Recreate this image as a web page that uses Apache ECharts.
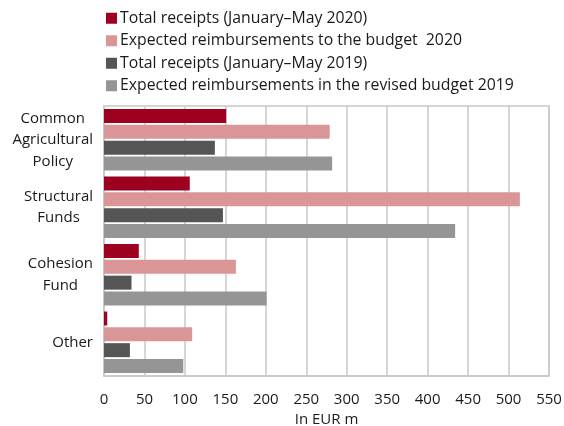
<!DOCTYPE html>
<html>
<head>
<meta charset="utf-8">
<script src="https://cdn.jsdelivr.net/npm/echarts@6/dist/echarts.min.js"></script>
<style>
  html, body { margin: 0; padding: 0; background: #ffffff; }
  #chart { width: 564px; height: 426px; }
</style>
</head>
<body>
<div id="chart"></div>
<script>
// Categories (top to bottom)
var categories = ['Common\nAgricultural\nPolicy', 'Structural\nFunds', 'Cohesion\nFund', 'Other'];

// Series names
var seriesNames = [
  'Total receipts (January\u2013May 2020)',
  'Expected reimbursements to the budget  2020',
  'Total receipts (January\u2013May 2019)',
  'Expected reimbursements in the revised budget 2019'
];

// Values in EUR m
var receipts2020 = [151, 106, 43, 4];
var expected2020 = [279, 514, 163, 109];
var receipts2019 = [137, 147, 34, 32];
var expected2019 = [282, 434, 201, 98];

// Value axis ticks
var xMin = 0, xMax = 550, xStep = 50;

var colors = ['#9e0020', '#da9696', '#555555', '#959595'];
var seriesValues = [receipts2020, expected2020, receipts2019, expected2019];
var fontFamily = '"Open Sans", "Noto Sans", sans-serif';
var textColor = '#1a1a1a';

var chart = echarts.init(document.getElementById('chart'), null, { renderer: 'canvas' });

chart.setOption({
  animation: false,
  backgroundColor: '#ffffff',
  color: colors,
  legend: {
    orient: 'vertical',
    left: 101,
    top: 4,
    itemWidth: 11,
    itemHeight: 11,
    itemGap: 4,
    icon: 'rect',
    textStyle: { fontFamily: fontFamily, fontSize: 15.8, color: textColor, lineHeight: 18.5, padding: [0, 0, 0, -2] },
    data: seriesNames
  },
  grid: {
    left: 104,
    right: 15,
    top: 106,
    bottom: 50,
    show: true,
    borderColor: '#c8c8c8',
    borderWidth: 1.5,
    containLabel: false,
    outerBoundsMode: 'none'
  },
  xAxis: {
    type: 'value',
    min: xMin,
    max: xMax,
    interval: xStep,
    name: 'In EUR m',
    nameLocation: 'middle',
    nameGap: 35,
    nameTextStyle: { fontFamily: fontFamily, fontSize: 15, color: textColor },
    axisLine: { show: true, lineStyle: { color: '#c8c8c8', width: 1.5 } },
    axisTick: { show: false },
    axisLabel: { fontFamily: fontFamily, fontSize: 15, color: textColor, margin: 16 },
    splitLine: { show: true, lineStyle: { color: '#c8c8c8', width: 1.5 } }
  },
  yAxis: {
    type: 'category',
    inverse: true,
    data: categories,
    axisLine: { show: true, lineStyle: { color: '#c8c8c8', width: 1.5 } },
    axisTick: { show: false },
    axisLabel: {
      margin: 11,
      align: 'right',
      formatter: function (v) {
        return v.split('\n').map(function (l) { return '{c|' + l + '}'; }).join('\n');
      },
      rich: {
        c: { align: 'center', fontFamily: fontFamily, fontSize: 15, color: textColor, lineHeight: 21.5 }
      }
    },
    splitLine: { show: false }
  },
  series: seriesNames.map(function (name, i) {
    return {
      name: name,
      type: 'bar',
      data: seriesValues[i],
      barWidth: 14,
      barGap: '13%',
      itemStyle: { color: colors[i] }
    };
  })
});
</script>
</body>
</html>
